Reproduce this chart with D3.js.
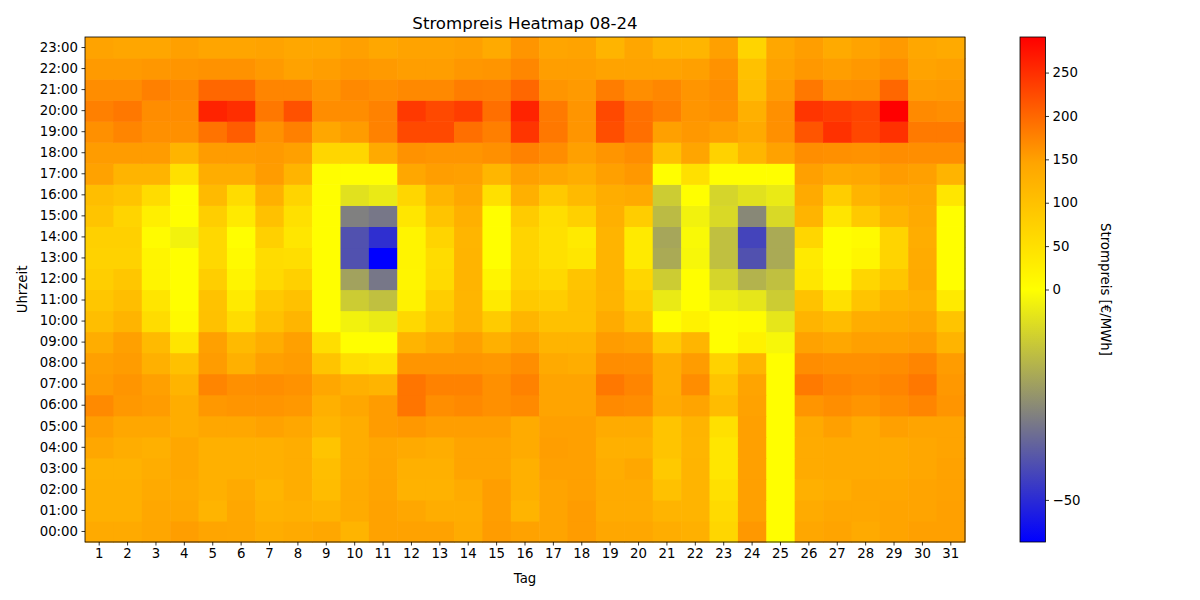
<!DOCTYPE html>
<html>
<head>
<meta charset="utf-8">
<script src="https://cdn.jsdelivr.net/npm/d3@7"></script>
<style>
  body { margin: 0; background: #fff; }
  text { font-family: "DejaVu Sans", sans-serif; }
</style>
</head>
<body>
<script>
// Tage 1..31, Stunden 00:00..23:00
const days = d3.range(1, 32);
const hourLabels = d3.range(0, 24).map(h => (h < 10 ? "0" : "") + h + ":00");
const cbarTicks = [-50, 0, 50, 100, 150, 200, 250];

// Strompreis je Stunde (Werte fuer Tag 1..31)
const h00 = [138,138,144,152,145,144,132,138, 142,121,148,148,148,135,153,148, 146,153,142,142,132,127,66,157, 2,142,146,138,146,150,150];
const h01 = [127,127,142,142,121,142,124,127, 121,135,148,142,132,132,152,121, 146,153,135,135,121,121,60,150, 2,135,142,142,146,146,150];
const h02 = [127,127,138,138,127,138,119,132, 108,135,146,124,124,135,152,127, 146,150,135,135,101,121,50,150, 2,127,132,142,142,146,148];
const h03 = [124,124,132,142,127,127,127,132, 105,132,145,127,127,146,146,127, 150,150,132,142,87,121,40,150, 2,135,138,138,138,142,148];
const h04 = [142,132,127,142,127,127,127,132, 95,132,144,138,132,146,146,135, 152,150,127,127,95,119,40,150, 2,135,138,138,138,142,146];
const h05 = [152,142,142,132,142,142,148,142, 119,132,153,157,152,152,152,135, 150,150,135,135,95,121,50,150, 2,138,150,138,150,146,146];
const h06 = [169,157,153,132,157,160,160,157, 127,142,153,188,166,170,164,169, 146,146,169,167,135,146,108,148, 1,160,166,160,167,174,160];
const h07 = [153,160,150,121,174,164,166,162, 142,127,121,188,176,176,164,176, 146,146,185,174,132,167,95,146, 1,183,174,169,174,185,157];
const h08 = [150,153,127,101,153,127,150,153, 95,53,47,160,160,160,157,166, 138,132,167,166,132,153,73,121, 1,167,164,164,167,174,153];
const h09 = [132,150,111,42,150,111,132,150, 53,1,1,121,135,150,127,146, 121,121,153,150,84,119,1,21, -2,148,142,150,150,153,121];
const h10 = [105,121,56,8,101,56,101,119, 1,-3,-5,63,95,121,84,119, 101,101,135,105,1,21,1,5, -6,121,108,132,135,142,95];
const h11 = [92,105,42,1,98,34,87,101, 1,-12,-15,21,81,119,34,87, 81,101,121,81,-5,1,-4,-6, -12,98,50,95,119,127,34];
const h12 = [79,92,18,1,79,18,60,76, 1,-22,-32,16,60,121,16,73, 63,95,121,66,-12,1,-10,-18, -15,40,8,66,92,138,1];
const h13 = [73,73,16,1,63,8,56,53, 1,-41,-60,18,56,121,1,69, 50,40,121,34,-20,-2,-15,-41, -20,34,1,14,69,135,1];
const h14 = [76,76,6,-3,63,2,76,40, 1,-41,-49,18,69,119,1,69, 50,34,121,34,-21,-1.5,-15,-44, -20,66,1,8,69,132,1];
const h15 = [95,69,26,1,79,34,101,50, 1,-30,-32,40,95,127,1,84, 53,76,127,81,-16,-3,-9,-28, -9,121,42,87,121,138,1];
const h16 = [105,95,56,1,111,56,127,69, 1,-7,-5,66,119,142,50,127, 87,111,132,138,-12,1,-10,-7, -5,138,81,121,138,142,40];
const h17 = [148,121,121,50,132,132,153,121, 3,2,2,142,152,150,118,150, 142,132,150,157,1,50,1,1, 1,150,138,142,153,150,121];
const h18 = [153,153,153,121,153,153,155,150, 66,66,138,162,160,160,164,176, 167,150,160,167,101,145,73,118, 148,166,164,162,167,166,166];
const h19 = [164,174,164,164,190,209,162,178, 142,153,176,227,227,193,179,244, 185,160,222,193,150,157,150,138, 164,216,248,228,248,183,183];
const h20 = [178,185,167,167,260,250,185,220, 167,167,176,241,227,237,193,260, 183,160,227,192,179,160,164,127, 164,244,237,230,291,169,166];
const h21 = [167,167,178,170,200,200,174,174, 160,170,166,170,170,181,179,200, 160,155,181,166,172,160,166,105, 153,185,164,166,200,153,155];
const h22 = [155,155,158,160,162,162,155,148, 152,158,155,152,152,158,160,172, 152,152,147,147,147,150,162,101, 148,157,152,157,166,147,150];
const h23 = [147,144,144,150,145,145,147,142, 142,150,142,147,147,150,138,160, 145,147,121,144,121,119,150,69, 142,152,138,147,155,142,138];

const rows = [h00,h01,h02,h03,h04,h05,h06,h07,h08,h09,h10,h11,h12,h13,h14,h15,h16,h17,h18,h19,h20,h21,h22,h23];

const cells = [];
rows.forEach((r, h) => r.forEach((v, i) => cells.push({ day: days[i], hour: hourLabels[h], v: v })));

const margin = { top: 37, left: 85 };
const width = 880, height = 505;

const svg = d3.select("body").append("svg")
  .attr("width", 1200)
  .attr("height", 600);

const g = svg.append("g")
  .attr("transform", "translate(" + margin.left + "," + margin.top + ")");

const x = d3.scaleBand().domain(days).range([0, width]);
const y = d3.scaleBand().domain(hourLabels).range([height, 0]);

const vmin = d3.min(cells, d => d.v);
const vmax = d3.max(cells, d => d.v);
const color = d3.scaleLinear()
  .domain([vmin, vmin / 2, 0, vmax / 2, vmax])
  .range(["blue", "gray", "yellow", "orange", "red"]);

g.selectAll("rect.cell")
  .data(cells)
  .enter()
  .append("rect")
  .attr("class", "cell")
  .attr("x", d => x(d.day))
  .attr("y", d => y(d.hour))
  .attr("width", x.bandwidth() + 0.6)
  .attr("height", y.bandwidth() + 0.6)
  .attr("fill", d => color(d.v));

// Achsen
const xAxis = g.append("g")
  .attr("transform", "translate(0," + height + ")")
  .call(d3.axisBottom(x).tickSize(3.5).tickPadding(3.5).tickSizeOuter(0));
const yAxis = g.append("g")
  .call(d3.axisLeft(y).tickSize(3.5).tickPadding(3.5).tickSizeOuter(0));

[xAxis, yAxis].forEach(a => {
  a.select(".domain").remove();
  a.selectAll("text").style("font-size", "13.3px").attr("fill", "#000");
  a.selectAll("line").attr("stroke", "#000").attr("stroke-width", 0.8);
});

g.append("rect")
  .attr("width", width).attr("height", height)
  .attr("fill", "none").attr("stroke", "#000").attr("stroke-width", 0.8);

// Titel und Beschriftungen
svg.append("text")
  .attr("x", margin.left + width / 2).attr("y", 29)
  .attr("text-anchor", "middle")
  .style("font-size", "16.6px")
  .text("Strompreis Heatmap 08-24");

svg.append("text")
  .attr("x", margin.left + width / 2).attr("y", 583)
  .attr("text-anchor", "middle")
  .style("font-size", "13.3px")
  .text("Tag");

svg.append("text")
  .attr("transform", "translate(22," + (margin.top + height / 2) + ") rotate(-90)")
  .attr("text-anchor", "middle")
  .attr("dominant-baseline", "central")
  .style("font-size", "13.3px")
  .text("Uhrzeit");

// Farbskala
const cbX = 1020, cbW = 25.5;
const grad = svg.append("defs").append("linearGradient")
  .attr("id", "cbgrad")
  .attr("x1", 0).attr("y1", 1).attr("x2", 0).attr("y2", 0);
[vmin, vmin / 2, 0, vmax / 2, vmax].forEach((v, i) => {
  grad.append("stop").attr("offset", (i * 25) + "%").attr("stop-color", color(v));
});

const cb = svg.append("g").attr("transform", "translate(" + cbX + "," + margin.top + ")");
cb.append("rect")
  .attr("width", cbW).attr("height", height)
  .attr("fill", "url(#cbgrad)")
  .attr("stroke", "#000").attr("stroke-width", 0.8);

const cscale = d3.scaleLinear().domain([vmin, 0, vmax]).range([height, height / 2, 0]);
const cAxis = cb.append("g")
  .attr("transform", "translate(" + cbW + ",0)")
  .call(d3.axisRight(cscale).tickValues(cbarTicks).tickSize(3.5).tickPadding(3.5)
    .tickFormat(d => d < 0 ? "\u2212" + Math.abs(d) : d));
cAxis.select(".domain").remove();
cAxis.selectAll("text").style("font-size", "13.3px").attr("fill", "#000");
cAxis.selectAll("line").attr("stroke", "#000").attr("stroke-width", 0.8);

svg.append("text")
  .attr("transform", "translate(1105," + (margin.top + height / 2) + ") rotate(90)")
  .attr("text-anchor", "middle")
  .attr("dominant-baseline", "central")
  .style("font-size", "13.3px")
  .text("Strompreis [€/MWh]");
</script>
</body>
</html>
